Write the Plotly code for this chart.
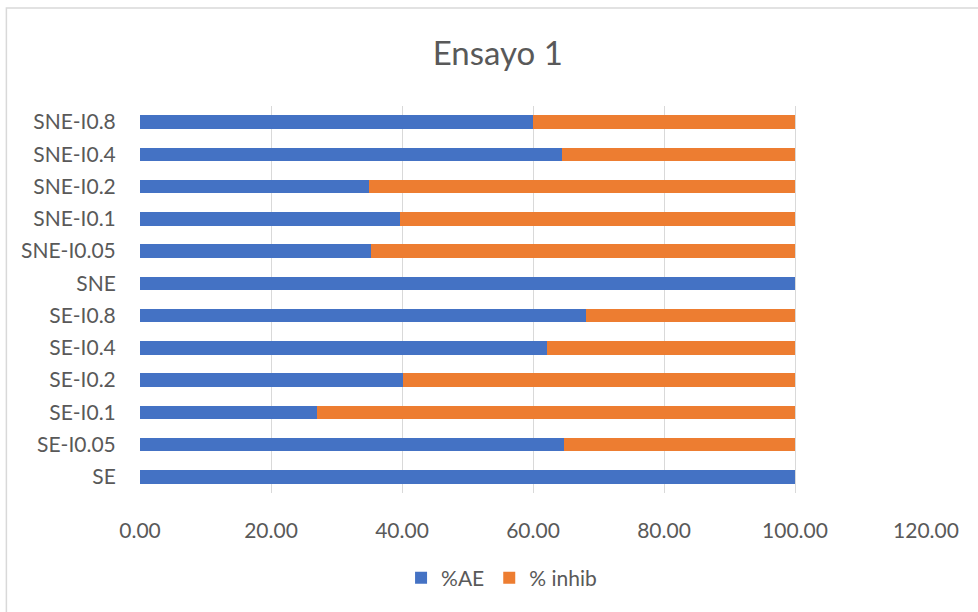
import plotly.graph_objects as go

categories = ["SE", "SE-I0.05", "SE-I0.1", "SE-I0.2", "SE-I0.4", "SE-I0.8",
              "SNE", "SNE-I0.05", "SNE-I0.1", "SNE-I0.2", "SNE-I0.4", "SNE-I0.8"]
pct_ae = [100.0, 64.7, 27.0, 40.1, 62.2, 68.1, 100.0, 35.2, 39.7, 35.0, 64.4, 60.0]
pct_inhib = [round(100 - v, 2) for v in pct_ae]
x_ticks = [0, 20, 40, 60, 80, 100, 120]

font_family = "Lato, 'Open Sans', sans-serif"
gray = "#595959"

fig = go.Figure()
fig.add_trace(go.Bar(y=categories, x=pct_ae, orientation="h", name="%AE",
                     marker=dict(color="#4472C4", line=dict(width=0))))
fig.add_trace(go.Bar(y=categories, x=pct_inhib, orientation="h", name="% inhib",
                     marker=dict(color="#ED7D31", line=dict(width=0))))

fig.update_layout(
    barmode="stack",
    bargap=0.58,
    width=978, height=612,
    paper_bgcolor="white", plot_bgcolor="white",
    margin=dict(l=140, r=52, t=106, b=119),
    title=dict(text="Ensayo 1", x=0.509, xanchor="center", y=0.913, yanchor="middle",
               font=dict(family=font_family, size=33, color=gray)),
    font=dict(family=font_family, size=21, color=gray),
    xaxis=dict(range=[0, 120], tickvals=x_ticks, tickformat=".2f",
               showgrid=True, gridcolor="#D9D9D9", gridwidth=1,
               zeroline=False, showline=False, ticks="outside",
               ticklen=19, tickcolor="rgba(0,0,0,0)",
               tickfont=dict(size=21, color=gray)),
    yaxis=dict(categoryorder="array", categoryarray=categories,
               showgrid=False, zeroline=False, showline=False, ticks="outside",
               ticklen=19, tickcolor="rgba(0,0,0,0)",
               tickfont=dict(size=21, color=gray)),
    legend=dict(orientation="h", x=0.46, xanchor="center", y=-0.22, yanchor="middle",
                font=dict(size=21, color=gray), traceorder="normal"),
    showlegend=True,
    shapes=[dict(type="rect", xref="paper", yref="paper",
                 x0=-0.170, x1=1.2, y0=-0.5, y1=1.253,
                 line=dict(color="#D9D9D9", width=1.5), fillcolor="rgba(0,0,0,0)")],
)

fig.write_html("out.html")
